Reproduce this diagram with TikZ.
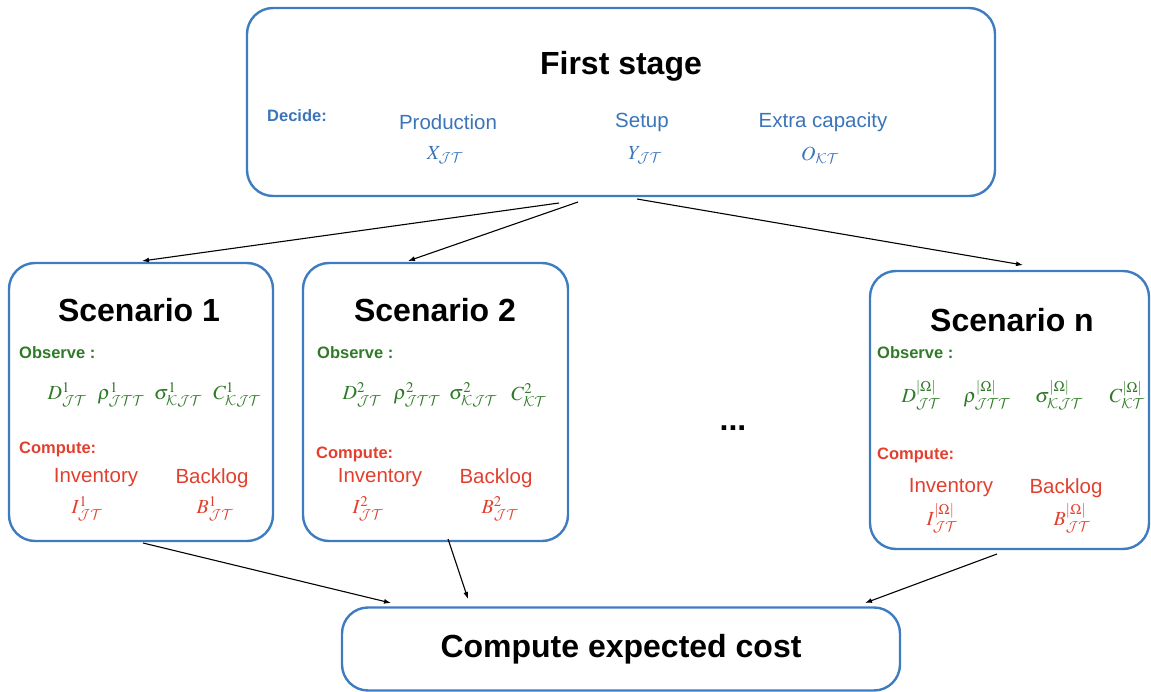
\documentclass[tikz,border=0pt]{standalone}
\usepackage{mathptmx}
\usepackage[no-math]{fontspec}
\setmainfont{Liberation Sans}
\usetikzlibrary{arrows.meta}
\DeclareMathAlphabet{\mathcal}{OMS}{cmsy}{m}{n}
\definecolor{boxblue}{HTML}{3D7CC0}
\definecolor{txtblue}{HTML}{3A74B9}
\definecolor{obsgreen}{HTML}{2F7A26}
\definecolor{comred}{HTML}{E2402F}
\newcommand{\JT}{\mathcal{J}\mathcal{T}}
\newcommand{\KT}{\mathcal{K}\mathcal{T}}
\newcommand{\Om}{|\Omega|}
\tikzset{
  box/.style={draw=boxblue, line width=2.4pt, rounded corners=26pt, inner sep=0pt, outer sep=0pt},
  head/.style={font=\fontsize{32}{36}\selectfont\bfseries},
  tag/.style={anchor=west, inner sep=0pt, font=\fontsize{16.5}{20}\selectfont\bfseries},
  word/.style={inner sep=0pt, font=\fontsize{20.5}{24}\selectfont},
  sym/.style={inner sep=0pt, font=\fontsize{20}{24}\selectfont},
  link/.style={-{Latex[length=7pt,width=5pt]}, line width=1.1pt, black},
}
\begin{document}
\begin{tikzpicture}[x=1pt, y=-1pt]
\useasboundingbox (0,0) rectangle (1151,692);
% boxes
\node[box, minimum width=748pt, minimum height=188pt] (fs) at (621,102) {};
\node[box, minimum width=264pt, minimum height=278pt] (sc1) at (141,402) {};
\node[box, minimum width=265pt, minimum height=278pt] (sc2) at (435.5,402) {};
\node[box, minimum width=279pt, minimum height=278pt] (scn) at (1009.5,410) {};
\node[box, head, minimum width=558pt, minimum height=83pt] (cost) at (621,649) {Compute expected cost};
% first stage
\node[head] (fstitle) at (621,66) {First stage};
\node[tag, txtblue] (decide) at (267,116) {Decide:};
\node[word, txtblue] (prod) at (448,122) {Production};
\node[word, txtblue] (setup) at (642,122) {Setup};
\node[word, txtblue] (extra) at (823,122) {Extra capacity};
\node[sym, txtblue] (xvar) at (445,155) {$X_{\JT}$};
\node[sym, txtblue] (yvar) at (645,155) {$Y_{\JT}$};
\node[sym, txtblue] (ovar) at (820,155) {$O_{\KT}$};
% scenario 1
\node[head] (sc1title) at (139,310) {Scenario 1};
\node[tag, obsgreen] (obs1) at (19,353) {Observe :};
\node[sym, obsgreen] (d1) at (67,395) {$D^{1}_{\JT}$};
\node[sym, obsgreen] (r1) at (121,395) {$\rho^{1}_{\mathcal{J}\mathcal{T}\mathcal{T}}$};
\node[sym, obsgreen] (s1) at (178,395) {$\sigma^{1}_{\mathcal{K}\mathcal{J}\mathcal{T}}$};
\node[sym, obsgreen] (c1) at (237,395) {$C^{1}_{\mathcal{K}\mathcal{J}\mathcal{T}}$};
\node[tag, comred] (com1) at (19,449) {Compute:};
\node[word, comred] (inv1) at (96,478) {Inventory};
\node[word, comred] (back1) at (212,478) {Backlog};
\node[sym, comred] (i1) at (87,509) {$I^{1}_{\JT}$};
\node[sym, comred] (b1) at (215,509) {$B^{1}_{\JT}$};
% scenario 2
\node[head] (sc2title) at (435,310) {Scenario 2};
\node[tag, obsgreen] (obs2) at (317,353) {Observe :};
\node[sym, obsgreen] (d2) at (362,395) {$D^{2}_{\JT}$};
\node[sym, obsgreen] (r2) at (417,395) {$\rho^{2}_{\mathcal{J}\mathcal{T}\mathcal{T}}$};
\node[sym, obsgreen] (s2) at (473,395) {$\sigma^{2}_{\mathcal{K}\mathcal{J}\mathcal{T}}$};
\node[sym, obsgreen] (c2) at (529,395) {$C^{2}_{\KT}$};
\node[tag, comred] (com2) at (316,454) {Compute:};
\node[word, comred] (inv2) at (380,478) {Inventory};
\node[word, comred] (back2) at (496,478) {Backlog};
\node[sym, comred] (i2) at (368,509) {$I^{2}_{\JT}$};
\node[sym, comred] (b2) at (500,509) {$B^{2}_{\JT}$};
% scenario n
\node[head] (scntitle) at (1012,320) {Scenario n};
\node[tag, obsgreen] (obsn) at (877,353) {Observe :};
\node[sym, obsgreen] (dn) at (921,395) {$D^{\Om}_{\JT}$};
\node[sym, obsgreen] (rn) at (987,395) {$\rho^{\Om}_{\mathcal{J}\mathcal{T}\mathcal{T}}$};
\node[sym, obsgreen] (sn) at (1059,395) {$\sigma^{\Om}_{\mathcal{K}\mathcal{J}\mathcal{T}}$};
\node[sym, obsgreen] (cn) at (1127,395) {$C^{\Om}_{\KT}$};
\node[tag, comred] (comn) at (877,455) {Compute:};
\node[word, comred] (invn) at (951,488) {Inventory};
\node[word, comred] (backn) at (1066,488) {Backlog};
\node[sym, comred] (in) at (942,518) {$I^{\Om}_{\JT}$};
\node[sym, comred] (bn) at (1072,518) {$B^{\Om}_{\JT}$};
% dots
\node[head] (dots) at (733,428) {...};
% arrow ends
\coordinate (fsa) at (559,203);
\coordinate (fsb) at (578,202);
\coordinate (fsc) at (637,199);
\coordinate (sc1in) at (142,261);
\coordinate (sc2in) at (408,261);
\coordinate (scnin) at (1023,265);
\coordinate (sc1out) at (143,543);
\coordinate (sc2out) at (448,539);
\coordinate (scnout) at (997,554);
\coordinate (costa) at (391,603);
\coordinate (costb) at (468,599);
\coordinate (costc) at (865,603);
% connectors
\draw[link] (fsa) -- (sc1in);
\draw[link] (fsb) -- (sc2in);
\draw[link] (fsc) -- (scnin);
\draw[link] (sc1out) -- (costa);
\draw[link] (sc2out) -- (costb);
\draw[link] (scnout) -- (costc);
\end{tikzpicture}
\end{document}
